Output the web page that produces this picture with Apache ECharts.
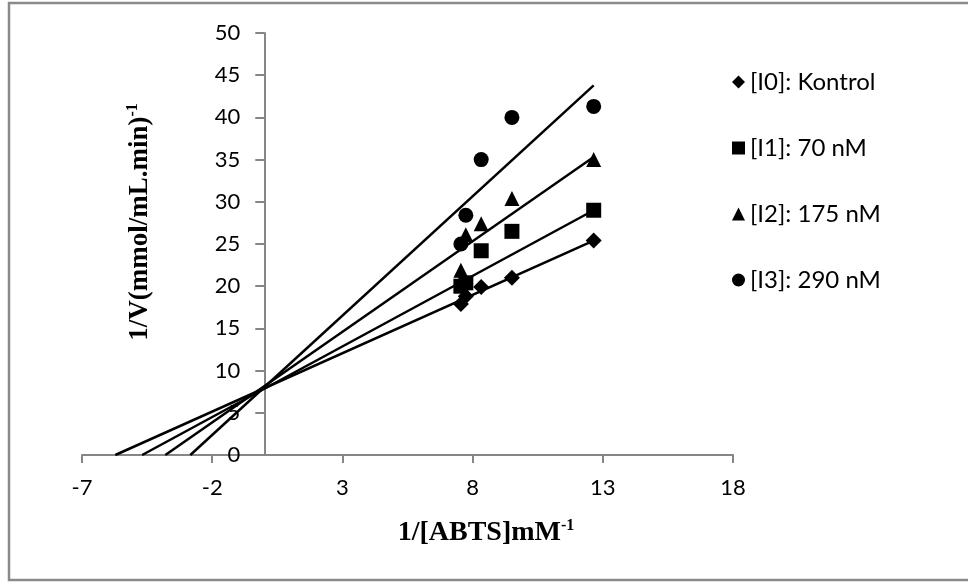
<!DOCTYPE html>
<html>
<head>
<meta charset="utf-8">
<script src="https://cdn.jsdelivr.net/npm/echarts@6/dist/echarts.min.js"></script>
<style>
  html, body { margin: 0; padding: 0; background: #fff; }
  #main { width: 968px; height: 583px; }
</style>
</head>
<body>
<div id="main"></div>
<script>
// 1/[ABTS] values (x) shared by every series
var xVals = [7.55, 7.74, 8.33, 9.51, 12.65];
// 1/V readings for each inhibitor level
var i0Vals = [17.9, 18.8, 19.9, 21.0, 25.4];
var i1Vals = [20.0, 20.4, 24.2, 26.5, 29.0];
var i2Vals = [21.9, 26.1, 27.4, 30.4, 35.0];
var i3Vals = [25.0, 28.4, 35.0, 40.0, 41.3];

var seriesNames = ['[I0]: Kontrol', '[I1]: 70 nM', '[I2]: 175 nM', '[I3]: 290 nM'];
var seriesSymbols = ['diamond', 'rect', 'triangle', 'circle'];

// trendlines: from the x intercept (y = 0) up to the last point
var trendStartX = [-5.72, -4.69, -3.80, -2.84];
var trendEndX = [12.65, 12.65, 12.65, 12.65];
var trendEndY = [25.4, 29.0, 35.3, 43.8];

var xTicks = { min: -7, max: 18, step: 5 };
var yTicks = { min: 0, max: 50, step: 5 };

var allVals = [i0Vals, i1Vals, i2Vals, i3Vals];

function pairs(ys) {
  var res = [];
  for (var i = 0; i < xVals.length; i++) res.push([xVals[i], ys[i]]);
  return res;
}

var gray = '#868686';
var labelFont = 'Lato, "Open Sans", sans-serif';
var titleFont = '"Liberation Serif", "Times New Roman", serif';

// grid box, the y axis sits at x = 0 inside it
var gridLeft = 82, gridRight = 235;
var plotW = 968 - gridLeft - gridRight;
var yAxisShift = -plotW * (0 - xTicks.min) / (xTicks.max - xTicks.min);

var series = [];
for (var k = 0; k < 4; k++) {
  series.push({
    name: 'trend' + k,
    type: 'line',
    data: [[trendStartX[k], 0], [trendEndX[k], trendEndY[k]]],
    showSymbol: false,
    silent: true,
    lineStyle: { color: '#000', width: 2.5 },
    z: 2
  });
}
for (var k = 0; k < 4; k++) {
  series.push({
    name: seriesNames[k],
    type: 'scatter',
    data: pairs(allVals[k]),
    symbol: seriesSymbols[k],
    symbolSize: k === 0 ? 16 : 15,
    itemStyle: { color: '#000', opacity: 1 },
    z: 3
  });
}

var option = {
  backgroundColor: '#fff',
  animation: false,
  grid: { left: gridLeft, right: gridRight, top: 33, bottom: 128 },
  legend: {
    orient: 'vertical',
    left: 727,
    top: 65,
    itemGap: 42,
    itemWidth: 13,
    itemHeight: 13,
    data: seriesNames,
    itemStyle: { opacity: 1 },
    textStyle: { fontFamily: labelFont, fontSize: 24, color: '#000', lineHeight: 20 }
  },
  xAxis: {
    type: 'value',
    min: xTicks.min,
    max: xTicks.max,
    interval: xTicks.step,
    axisLine: { onZero: true, lineStyle: { color: gray, width: 2 } },
    axisTick: { show: true, length: 8, lineStyle: { color: gray, width: 2 } },
    axisLabel: { margin: 22, fontFamily: labelFont, fontSize: 22, color: '#000' },
    splitLine: { show: false }
  },
  yAxis: {
    type: 'value',
    min: yTicks.min,
    max: yTicks.max,
    interval: yTicks.step,
    offset: yAxisShift,
    axisLine: { show: true, onZero: false, lineStyle: { color: gray, width: 2 } },
    axisTick: { show: true, length: 9, lineStyle: { color: gray, width: 2 } },
    axisLabel: { margin: 24, fontFamily: labelFont, fontSize: 22, color: '#000' },
    splitLine: { show: false }
  },
  graphic: [
    {
      type: 'rect',
      silent: true,
      shape: { x: 9, y: 3, width: 990, height: 577 },
      style: { fill: 'none', stroke: '#8a8a8a', lineWidth: 2.5 }
    },
    {
      type: 'text',
      silent: true,
      x: 140,
      y: 222,
      rotation: Math.PI / 2,
      style: {
        text: '{b|1/V(mmol/mL.min)}{s|-1}',
        textAlign: 'center',
        textVerticalAlign: 'middle',
        rich: {
          b: { fontFamily: titleFont, fontWeight: 'bold', fontSize: 27, lineHeight: 30, fill: '#000' },
          s: { fontFamily: titleFont, fontWeight: 'bold', fontSize: 16, lineHeight: 30, verticalAlign: 'top', fill: '#000' }
        }
      }
    },
    {
      type: 'text',
      silent: true,
      x: 486,
      y: 533,
      style: {
        text: '{b|1/[ABTS]mM}{s|-1}',
        textAlign: 'center',
        textVerticalAlign: 'middle',
        rich: {
          b: { fontFamily: titleFont, fontWeight: 'bold', fontSize: 28, lineHeight: 30, fill: '#000' },
          s: { fontFamily: titleFont, fontWeight: 'bold', fontSize: 16, lineHeight: 30, verticalAlign: 'top', fill: '#000' }
        }
      }
    }
  ],
  series: series
};

var myChart = echarts.init(document.getElementById('main'));
myChart.setOption(option);
</script>
</body>
</html>
